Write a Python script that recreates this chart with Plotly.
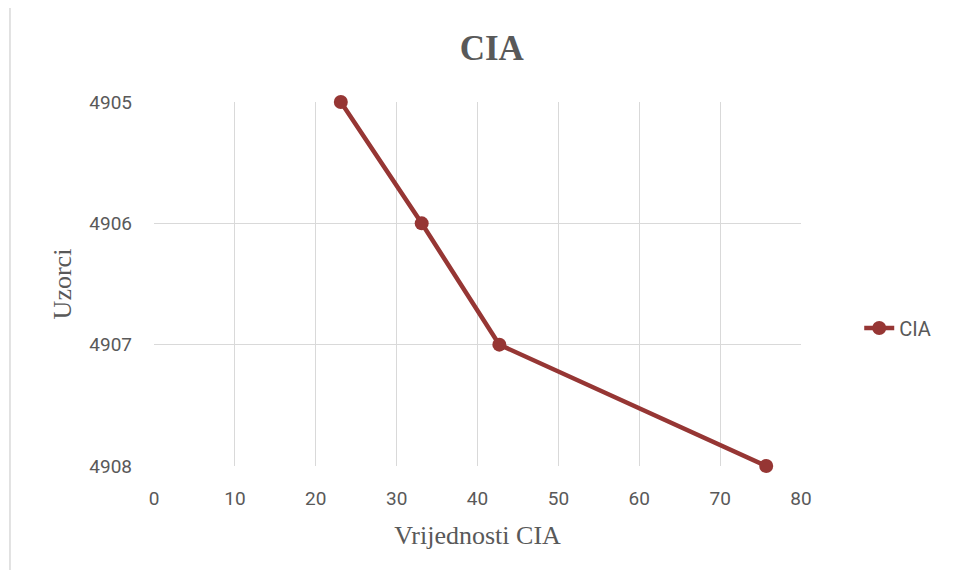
import plotly.graph_objects as go

# CIA values per sample
cia_values = [23.1, 33.1, 42.7, 75.7]
samples = [4905, 4906, 4907, 4908]
series_name = 'CIA'

line_color = 'rgb(150, 54, 52)'
grid_color = '#d9d9d9'
text_color = '#595959'

fig = go.Figure()

fig.add_trace(
    go.Scatter(
        x=cia_values,
        y=samples,
        mode='lines+markers',
        name=series_name,
        line=dict(color=line_color, width=4.5),
        marker=dict(color=line_color, size=14),
        cliponaxis=False
    )
)

# outer chart frame (light grey border)
fig.add_shape(
    type='rect', xref='paper', yref='paper',
    x0=-0.2226, x1=1.245, y0=-0.33, y1=1.261,
    line=dict(color='#d9d9d9', width=1.5), layer='below'
)

# the page body adds an 8px margin, so the figure is a bit smaller than the window
fig.update_layout(
    width=944,
    height=562,
    margin=dict(l=146, r=151, t=94, b=104),
    paper_bgcolor='white',
    plot_bgcolor='white',
    title=dict(
        text='<b>CIA</b>',
        font=dict(family='Liberation Serif', size=35, color=text_color),
        x=0.522, xref='paper', xanchor='center',
        y=1 - 40 / 562, yref='container', yanchor='middle'
    ),
    showlegend=True,
    legend=dict(
        x=1.09, y=0.379, xanchor='left', yanchor='middle',
        font=dict(family='Roboto', size=20, color=text_color),
        bgcolor='rgba(0,0,0,0)'
    ),
    hovermode=False
)

fig.update_xaxes(
    range=[0, 80],
    dtick=10,
    showgrid=True,
    gridcolor=grid_color,
    gridwidth=1,
    zeroline=False,
    showline=False,
    ticks='',
    ticklabelstandoff=19,
    tickfont=dict(family='Roboto', size=19, color=text_color),
    title=dict(text='Vrijednosti CIA', standoff=16,
               font=dict(family='Liberation Serif', size=26, color=text_color))
)

fig.update_yaxes(
    range=[4908, 4905],
    dtick=1,
    tickformat='d',
    showgrid=True,
    gridcolor=grid_color,
    gridwidth=1,
    zeroline=False,
    showline=False,
    ticks='',
    ticklabelstandoff=21,
    tickfont=dict(family='Roboto', size=19, color=text_color),
    title=dict(text='Uzorci', standoff=10,
               font=dict(family='Liberation Serif', size=26, color=text_color))
)

fig.write_html('out.html')
